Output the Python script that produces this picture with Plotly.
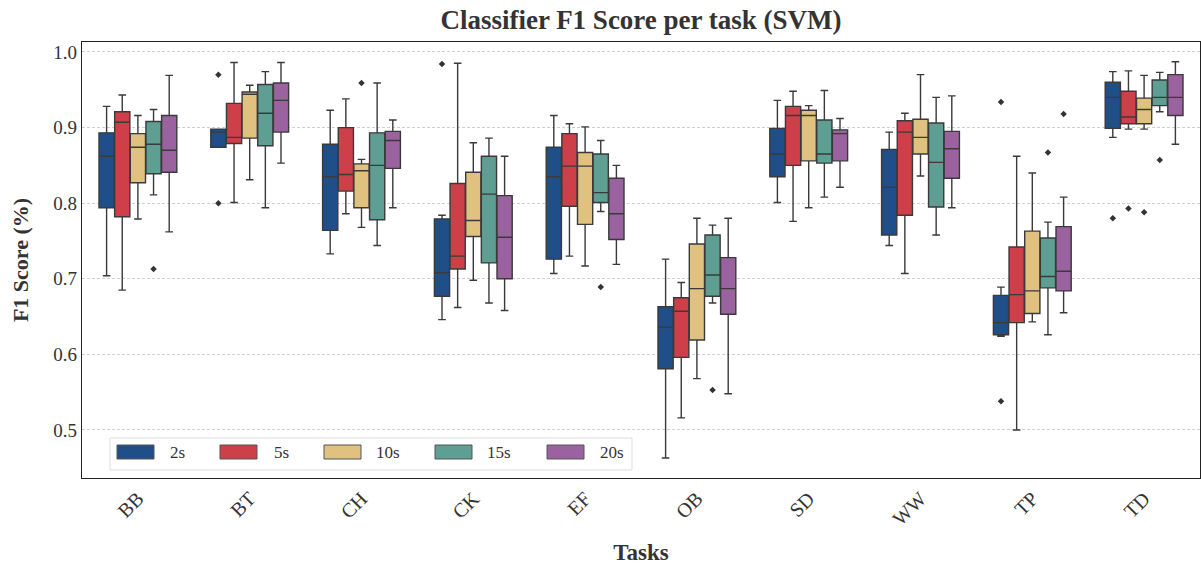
import plotly.graph_objects as go

tasks = ["BB", "BT", "CH", "CK", "EF", "OB", "SD", "WW", "TP", "TD"]
windows = ["2s", "5s", "10s", "15s", "20s"]
colors = ["#1f4e89", "#cd4049", "#e0c17f", "#5f9e92", "#9b62a0"]

# per window: lists over tasks
lowfence = {
    "2s":  [0.704, 0.874, 0.733, 0.646, 0.707, 0.463, 0.801, 0.744, 0.624, 0.887],
    "5s":  [0.685, 0.801, 0.786, 0.662, 0.730, 0.516, 0.776, 0.707, 0.500, 0.898],
    "10s": [0.779, 0.831, 0.768, 0.698, 0.717, 0.568, 0.794, 0.836, 0.643, 0.898],
    "15s": [0.811, 0.794, 0.744, 0.668, 0.789, 0.668, 0.808, 0.758, 0.626, 0.921],
    "20s": [0.762, 0.853, 0.794, 0.658, 0.719, 0.548, 0.821, 0.794, 0.655, 0.878],
}
q1 = {
    "2s":  [0.794, 0.874, 0.764, 0.677, 0.726, 0.581, 0.835, 0.758, 0.626, 0.899],
    "5s":  [0.782, 0.879, 0.816, 0.713, 0.796, 0.596, 0.850, 0.784, 0.642, 0.905],
    "10s": [0.827, 0.886, 0.794, 0.756, 0.772, 0.619, 0.856, 0.865, 0.654, 0.905],
    "15s": [0.839, 0.876, 0.778, 0.721, 0.801, 0.677, 0.853, 0.795, 0.688, 0.929],
    "20s": [0.841, 0.894, 0.846, 0.700, 0.752, 0.653, 0.856, 0.833, 0.684, 0.916],
}
median = {
    "2s":  [0.862, 0.894, 0.835, 0.708, 0.835, 0.636, 0.865, 0.821, 0.642, 0.940],
    "5s":  [0.907, 0.887, 0.838, 0.730, 0.849, 0.657, 0.916, 0.894, 0.679, 0.914],
    "10s": [0.874, 0.944, 0.843, 0.777, 0.849, 0.687, 0.916, 0.887, 0.684, 0.924],
    "15s": [0.878, 0.919, 0.850, 0.812, 0.814, 0.705, 0.865, 0.854, 0.703, 0.940],
    "20s": [0.870, 0.936, 0.883, 0.755, 0.786, 0.687, 0.892, 0.872, 0.710, 0.940],
}
q3 = {
    "2s":  [0.893, 0.898, 0.878, 0.779, 0.874, 0.663, 0.899, 0.871, 0.678, 0.960],
    "5s":  [0.921, 0.932, 0.900, 0.826, 0.892, 0.675, 0.928, 0.909, 0.742, 0.948],
    "10s": [0.892, 0.947, 0.852, 0.841, 0.867, 0.746, 0.923, 0.911, 0.763, 0.939],
    "15s": [0.908, 0.957, 0.893, 0.862, 0.865, 0.758, 0.910, 0.906, 0.754, 0.963],
    "20s": [0.916, 0.959, 0.895, 0.810, 0.833, 0.728, 0.897, 0.895, 0.769, 0.970],
}
highfence = {
    "2s":  [0.928, 0.898, 0.923, 0.784, 0.916, 0.726, 0.936, 0.894, 0.689, 0.974],
    "5s":  [0.943, 0.986, 0.938, 0.985, 0.905, 0.695, 0.948, 0.919, 0.862, 0.975],
    "10s": [0.916, 0.956, 0.858, 0.880, 0.901, 0.780, 0.929, 0.970, 0.840, 0.969],
    "15s": [0.924, 0.974, 0.959, 0.886, 0.883, 0.771, 0.949, 0.940, 0.775, 0.973],
    "20s": [0.969, 0.986, 0.910, 0.862, 0.850, 0.780, 0.912, 0.942, 0.808, 0.987],
}
# outliers: (task, value)
outlier_task = {
    "2s":  ["BT", "BT", "CK", "TP", "TP", "TD"],
    "5s":  ["TD"],
    "10s": ["CH", "TD"],
    "15s": ["BB", "EF", "OB", "TP", "TD"],
    "20s": ["TP"],
}
outlier_val = {
    "2s":  [0.970, 0.800, 0.984, 0.934, 0.538, 0.780],
    "5s":  [0.793],
    "10s": [0.959, 0.788],
    "15s": [0.713, 0.689, 0.553, 0.867, 0.857],
    "20s": [0.918],
}

FONT = "Liberation Serif"
step = 0.14
bw = 0.136

fig = go.Figure()
for k, w in enumerate(windows):
    off = (k - 2) * step
    xs = [i + off for i in range(len(tasks))]
    fig.add_trace(go.Box(
        x=xs, q1=q1[w], median=median[w], q3=q3[w],
        lowerfence=lowfence[w], upperfence=highfence[w],
        width=bw, whiskerwidth=0.5, boxpoints=False,
        fillcolor=colors[k], line=dict(color="#3a3a3a", width=1.4),
        name=w, showlegend=False,
    ))
    ox = [tasks.index(t) + off for t in outlier_task[w]]
    fig.add_trace(go.Scatter(
        x=ox, y=outlier_val[w], mode="markers",
        marker=dict(symbol="diamond", size=5, color="#333333"),
        showlegend=False, hoverinfo="skip",
    ))

# manual legend (matplotlib-style patches)
L, R, T, B = 82, 1200, 42, 478
W, H = 1201, 565
def px(x):
    return (x - L) / (R - L)
def py(y):
    return (B - y) / (B - T)

shapes = [dict(type="rect", xref="paper", yref="paper",
               x0=px(110), x1=px(632), y0=py(470), y1=py(438),
               line=dict(color="#dddddd", width=1), fillcolor="rgba(255,255,255,0.85)", layer="above")]
annotations = []
patch_x = [117, 220, 324, 435, 547]
text_x = [168, 272, 374, 485, 598]
for k, w in enumerate(windows):
    shapes.append(dict(type="rect", xref="paper", yref="paper",
                       x0=px(patch_x[k]), x1=px(patch_x[k] + 37), y0=py(459), y1=py(445),
                       line=dict(color="#555555", width=1), fillcolor=colors[k], layer="above"))
    annotations.append(dict(xref="paper", yref="paper", x=px(text_x[k]), y=py(452),
                            text=w, showarrow=False, xanchor="left", yanchor="middle",
                            font=dict(family=FONT, size=17, color="#333333")))

fig.update_layout(
    width=W, height=H,
    margin=dict(l=L, r=W - R, t=T, b=H - B),
    paper_bgcolor="white", plot_bgcolor="white",
    font=dict(family=FONT, color="#333333"),
    title=dict(text="<b>Classifier F1 Score per task (SVM)</b>", x=0.5, xref="paper",
               y=1 - 20 / H, yref="container", yanchor="middle",
               font=dict(family=FONT, size=27, color="#333333")),
    boxmode="overlay",
    shapes=shapes, annotations=annotations,
    xaxis=dict(range=[-0.5, 9.5], tickmode="array", tickvals=list(range(len(tasks))),
               ticktext=tasks, tickangle=-45, showgrid=False, zeroline=False,
               showline=True, linecolor="#222222", linewidth=1.2, mirror=True,
               tickfont=dict(family=FONT, size=20, color="#333333"),
               title=dict(text="<b>Tasks</b>", font=dict(family=FONT, size=23, color="#333333"), standoff=18)),
    yaxis=dict(range=[0.4365, 1.0132], tickvals=[0.5, 0.6, 0.7, 0.8, 0.9, 1.0],
               ticktext=["0.5", "0.6", "0.7", "0.8", "0.9", "1.0"],
               showgrid=True, gridcolor="#cfcfcf", griddash="3px,2px", gridwidth=0.8,
               zeroline=False, showline=True, linecolor="#222222", linewidth=1.2, mirror=True,
               tickfont=dict(family=FONT, size=19, color="#333333"),
               title=dict(text="<b>F1 Score (%)</b>", font=dict(family=FONT, size=22, color="#333333"), standoff=18)),
)

fig.write_html("out.html")
